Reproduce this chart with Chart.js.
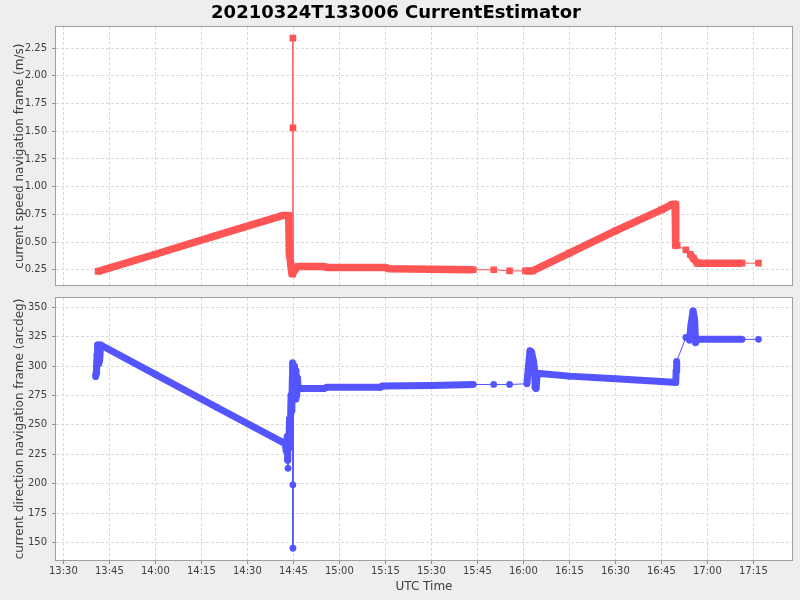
<!DOCTYPE html>
<html>
<head>
<meta charset="utf-8">
<title>CurrentEstimator</title>
<script src="https://cdn.jsdelivr.net/npm/chart.js@4.4.0/dist/chart.umd.min.js"></script>
<style>
  html, body { margin: 0; padding: 0; background: #eeeeee; }
  #wrap { position: relative; width: 800px; height: 600px; }
  #speedChart { position: absolute; left: 0; top: 0; width: 800px; height: 290px; }
  #dirChart { position: absolute; left: 0; top: 290px; width: 800px; height: 310px; }
</style>
</head>
<body>
<div id="wrap">
  <canvas id="speedChart" width="800" height="290"></canvas>
  <canvas id="dirChart" width="800" height="310"></canvas>
</div>
<script>
const speedTimes = ['13:41:20', '14:00:00', '14:20:00', '14:41:40', '14:43:30',
  '14:43:40', '14:44:10', '14:44:30', '14:44:45', '14:44:50', '14:44:52', '14:45:00', '14:46:30', '14:55:00',
  '14:56:00', '15:15:00', '15:16:00', '15:43:40', '15:50:20', '15:55:30', '16:00:40', '16:03:00', '16:15:00',
  '16:30:00', '16:45:00', '16:48:30', '16:49:30', '16:49:40', '16:50:10', '16:53:00', '16:54:25', '16:55:30',
  '16:56:40', '17:11:20', '17:16:40'];
const speedValues = [0.235, 0.39, 0.56, 0.74, 0.74,
  0.40, 0.30, 0.22, 0.21, 2.34, 1.53, 0.23, 0.28, 0.28,
  0.27, 0.27, 0.26, 0.25, 0.25, 0.24, 0.24, 0.24, 0.40,
  0.60, 0.79, 0.84, 0.84, 0.47, 0.47, 0.43, 0.39, 0.35,
  0.31, 0.31, 0.31];
const speedDense = [1, 1, 1, 1, 1,
  1, 1, 1, 1, 0, 0, 1, 1, 1,
  1, 1, 1, 1, 0, 0, 1, 1, 1,
  1, 1, 1, 1, 1, 1, 0, 1, 1,
  1, 1, 0];

const dirTimes = ['13:40:30', '13:40:40', '13:40:50', '13:41:00', '13:41:10', '13:41:30', '13:41:50', '13:42:10',
  '14:00:00', '14:20:00', '14:42:20', '14:42:40', '14:43:00', '14:43:10', '14:43:15', '14:43:30', '14:43:45',
  '14:44:00', '14:44:15', '14:44:30', '14:44:40', '14:44:45', '14:44:50', '14:44:52', '14:45:05', '14:45:20',
  '14:45:35', '14:45:50', '14:46:05', '14:46:20', '14:46:35', '14:55:00', '14:56:00', '15:13:20', '15:14:00',
  '15:30:00', '15:43:40', '15:50:20', '15:55:30', '16:01:10', '16:01:40', '16:02:10', '16:02:40', '16:03:20',
  '16:03:40', '16:03:50', '16:04:10', '16:04:30', '16:15:00', '16:30:00', '16:45:00', '16:49:40', '16:49:50',
  '16:50:00', '16:53:00', '16:54:10', '16:54:40', '16:55:20', '16:55:50', '16:56:10', '16:56:40', '17:11:20',
  '17:16:40'];
const dirValues = [291, 294, 300, 310, 318, 302, 305, 318,
  293, 265, 234, 228, 240, 220, 213, 230, 255,
  245, 275, 262, 290, 303, 199, 145, 280, 300,
  272, 296, 275, 290, 281, 281, 282, 282, 283,
  283.5, 284.4, 284.4, 284.4, 285, 300, 313, 312, 304,
  296, 282, 281, 294, 291.5, 289.3, 287, 286, 296,
  304, 324.4, 322, 335, 347, 340, 320, 323, 322.8,
  322.8];
const dirDense = [1, 1, 1, 1, 1, 1, 1, 1,
  1, 1, 1, 1, 1, 1, 0, 1, 1,
  1, 1, 1, 1, 1, 0, 0, 1, 1,
  1, 1, 1, 1, 1, 1, 1, 1, 1,
  1, 1, 0, 0, 1, 1, 1, 1, 1,
  1, 1, 1, 1, 1, 1, 1, 1, 1,
  1, 0, 1, 1, 1, 1, 1, 1, 1,
  0];

const timeTicks = ['13:30', '13:45', '14:00', '14:15', '14:30', '14:45', '15:00', '15:15',
  '15:30', '15:45', '16:00', '16:15', '16:30', '16:45', '17:00', '17:15'];
const speedTicks = [0.25, 0.50, 0.75, 1.00, 1.25, 1.50, 1.75, 2.00, 2.25];
const dirTicks = [150, 175, 200, 225, 250, 275, 300, 325, 350];

const RED = '#ff5555';
const BLUE = '#5555ff';
const FONT = 'DejaVu Sans';

// "HH:MM[:SS]" -> minutos desde meia-noite
function toMin(t) {
  const p = t.split(':').map(Number);
  return p[0] * 60 + p[1] + (p[2] || 0) / 60;
}

// fundo cinza + área do gráfico branca + contorno
const plotFrame = {
  id: 'plotFrame',
  beforeDraw(chart) {
    const { ctx, chartArea: a } = chart;
    ctx.save();
    ctx.fillStyle = '#eeeeee';
    ctx.fillRect(0, 0, chart.width, chart.height);
    ctx.fillStyle = '#ffffff';
    ctx.fillRect(a.left, a.top, a.right - a.left, a.bottom - a.top);
    ctx.restore();
  },
  afterDraw(chart) {
    const { ctx, chartArea: a } = chart;
    ctx.save();
    ctx.strokeStyle = '#a0a0a0';
    ctx.lineWidth = 1;
    ctx.strokeRect(Math.round(a.left) - 0.5, Math.round(a.top) - 0.5,
      Math.round(a.right - a.left) + 1, Math.round(a.bottom - a.top) + 1);
    ctx.restore();
  }
};

function serie(times, values, dense, color, style, radius, band) {
  return {
    data: times.map((t, i) => ({ x: toMin(t), y: values[i] })),
    borderColor: color,
    backgroundColor: color,
    borderWidth: 1,
    borderJoinStyle: 'round',
    pointStyle: style,
    pointRadius: radius,
    pointBorderWidth: 0,
    tension: 0,
    segment: {
      borderWidth: ctx => (dense[ctx.p0DataIndex] && dense[ctx.p1DataIndex]) ? band : 1
    }
  };
}

function xAxis(showLabels) {
  return {
    type: 'linear',
    min: toMin('13:27:36'),
    max: toMin('17:27:36'),
    afterBuildTicks: s => { s.ticks = timeTicks.map(t => ({ value: toMin(t) })); },
    afterFit: s => {
      s.height = showLabels ? 40 : 0;
      s.paddingLeft = 0;
      s.paddingRight = 0;
    },
    ticks: {
      display: showLabels,
      padding: 1,
      color: '#404040',
      font: { family: FONT, size: 10 },
      maxRotation: 0,
      autoSkip: false,
      callback: (v, i) => timeTicks[i]
    },
    grid: {
      color: '#dadada',
      drawTicks: showLabels,
      tickLength: 4,
      tickColor: '#909090'
    },
    border: { display: false, dash: [3, 2] },
    title: {
      display: showLabels,
      text: 'UTC Time',
      color: '#404040',
      font: { family: FONT, size: 12 },
      padding: { top: 0, bottom: 6 }
    }
  };
}

function yAxis(min, max, ticks, fmt, label) {
  return {
    type: 'linear',
    min: min,
    max: max,
    afterBuildTicks: s => { s.ticks = ticks.map(v => ({ value: v })); },
    afterFit: s => {
      s.width = 56;
      s.paddingTop = 0;
      s.paddingBottom = 0;
    },
    ticks: {
      padding: 5,
      color: '#404040',
      font: { family: FONT, size: 10 },
      autoSkip: false,
      callback: v => fmt(v)
    },
    grid: {
      color: '#dadada',
      drawTicks: true,
      tickLength: 4,
      tickColor: '#909090'
    },
    border: { display: false, dash: [3, 2] },
    title: {
      display: true,
      text: label,
      color: '#404040',
      font: { family: FONT, size: 12 },
      padding: { top: 13, bottom: 0 }
    }
  };
}

// gráfico de cima: velocidade
new Chart(document.getElementById('speedChart'), {
  type: 'line',
  data: { datasets: [serie(speedTimes, speedValues, speedDense, RED, 'rect', 4.7, 7.5)] },
  options: {
    responsive: false,
    animation: false,
    events: [],
    layout: { padding: { left: 0, right: 8, top: 0, bottom: 2 } },
    plugins: {
      legend: { display: false },
      tooltip: { enabled: false },
      title: {
        display: true,
        text: '20210324T133006 CurrentEstimator',
        color: '#000000',
        font: { family: FONT, size: 18, weight: 'bold' },
        padding: { top: 3, bottom: 2.4 }
      }
    },
    scales: {
      x: xAxis(false),
      y: yAxis(0.11, 2.44, speedTicks, v => v.toFixed(2), 'current speed navigation frame (m/s)')
    }
  },
  plugins: [plotFrame]
});

// gráfico de baixo: direção
new Chart(document.getElementById('dirChart'), {
  type: 'line',
  data: { datasets: [serie(dirTimes, dirValues, dirDense, BLUE, 'circle', 3.4, 7)] },
  options: {
    responsive: false,
    animation: false,
    events: [],
    layout: { padding: { left: 0, right: 8, top: 8, bottom: 0 } },
    plugins: {
      legend: { display: false },
      tooltip: { enabled: false }
    },
    scales: {
      x: xAxis(true),
      y: yAxis(135, 358, dirTicks, v => String(v), 'current direction navigation frame (arcdeg)')
    }
  },
  plugins: [plotFrame]
});
</script>
</body>
</html>
